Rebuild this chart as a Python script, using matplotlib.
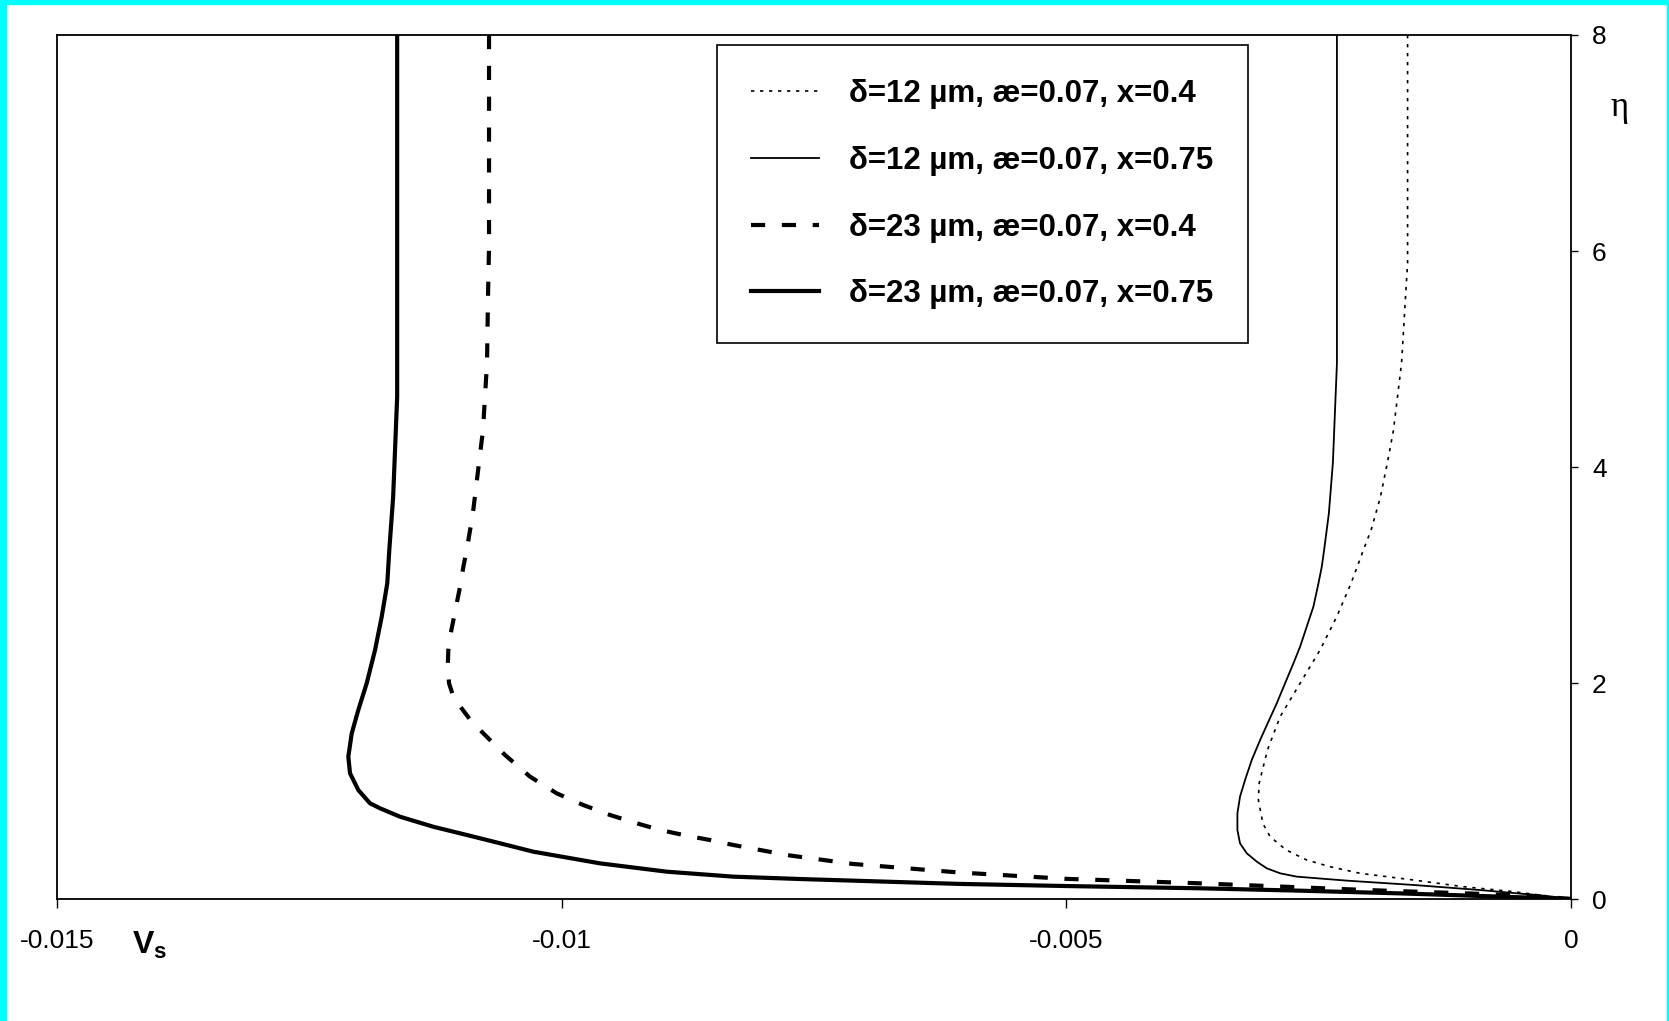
import numpy as np
import matplotlib
matplotlib.use("Agg")
from matplotlib import pyplot as plt
from matplotlib.patches import Rectangle

plt.rcParams['font.family'] = ['Liberation Sans', 'DejaVu Sans']
plt.rcParams['mathtext.fontset'] = 'custom'
plt.rcParams['mathtext.bf'] = 'Liberation Sans:bold'
plt.rcParams['mathtext.rm'] = 'Liberation Sans'

# curves: Vs and eta
v_12_04 = [-0.00162, -0.00162, -0.00166, -0.00168, -0.00172, -0.00176, -0.00182, -0.00189,
           -0.00198, -0.002058, -0.00218, -0.002322, -0.002487, -0.002685, -0.002883,
           -0.003008, -0.003091, -0.003098, -0.003054, -0.002982, -0.002823, -0.002619,
           -0.002388, -0.002091, -0.001562, -0.001067, -0.000571, 0.0]
eta_12_04 = [8, 5.89, 5.27, 4.96, 4.65, 4.34, 4.04, 3.72, 3.42, 3.231, 2.923, 2.614, 2.306,
             1.997, 1.688, 1.38, 1.071, 0.917, 0.701, 0.577, 0.454, 0.361, 0.299, 0.238,
             0.176, 0.114, 0.068, 0]

v_12_075 = [-0.00232, -0.00232, -0.00236, -0.00240, -0.002447, -0.00247, -0.002503, -0.002553,
            -0.002619, -0.002685, -0.002751, -0.002834, -0.002916, -0.002999, -0.003081,
            -0.003164, -0.00323, -0.00328, -0.003306, -0.003306, -0.00328, -0.003213,
            -0.003114, -0.003015, -0.002883, -0.002718, -0.002222, -0.001562, -0.000902,
            -0.000241, 0.0]
eta_12_075 = [8, 4.96, 4.04, 3.57, 3.231, 3.077, 2.923, 2.707, 2.522, 2.336, 2.182, 1.997,
              1.812, 1.642, 1.472, 1.287, 1.102, 0.948, 0.793, 0.639, 0.515, 0.423, 0.346,
              0.284, 0.238, 0.207, 0.17, 0.13, 0.083, 0.028, 0]

v_23_04 = [-0.01072, -0.01072, -0.01073, -0.01074, -0.01078, -0.01084, -0.01088, -0.010941,
           -0.010974, -0.011007, -0.01104, -0.011073, -0.011106, -0.011123, -0.011129,
           -0.011116, -0.011073, -0.010991, -0.010892, -0.01071, -0.010561, -0.010314,
           -0.010049, -0.009786, -0.009522, -0.009257, -0.009026, -0.008761, -0.00853,
           -0.0083, -0.008035, -0.007771, -0.00712, -0.00607, -0.00501, -0.003675,
           -0.002684, -0.002023, -0.001032, -0.000373, 0.0]
eta_23_04 = [8, 6.04, 5.58, 4.96, 4.34, 3.88, 3.57, 3.231, 3.077, 2.892, 2.738, 2.583, 2.429,
             2.306, 2.151, 1.997, 1.873, 1.765, 1.642, 1.472, 1.333, 1.133, 0.978, 0.87,
             0.778, 0.701, 0.639, 0.586, 0.546, 0.5, 0.454, 0.407, 0.325, 0.246, 0.187,
             0.145, 0.108, 0.083, 0.052, 0.028, 0]

v_23_075 = [-0.01163, -0.01163, -0.01167, -0.011708, -0.011728, -0.011783, -0.011849,
            -0.011932, -0.012015, -0.01208, -0.012114, -0.012097, -0.012015, -0.011899,
            -0.0118, -0.011602, -0.011272, -0.010941, -0.010611, -0.010281, -0.00962,
            -0.00896, -0.0083, -0.007639, -0.00607, -0.005, -0.003675, -0.002684,
            -0.001694, -0.000373, 0.0]
eta_23_075 = [8, 4.65, 3.72, 3.231, 2.923, 2.614, 2.306, 1.997, 1.75, 1.534, 1.318, 1.164,
              1.009, 0.886, 0.84, 0.762, 0.669, 0.593, 0.516, 0.438, 0.33, 0.253, 0.207,
              0.185, 0.14, 0.12, 0.099, 0.077, 0.052, 0.012, 0]

labels = ["δ=12 µm, æ=0.07, x=0.4", "δ=12 µm, æ=0.07, x=0.75",
          "δ=23 µm, æ=0.07, x=0.4", "δ=23 µm, æ=0.07, x=0.75"]

xticks = [-0.015, -0.01, -0.005, 0]
xticklabels = ["-0.015", "-0.01", "-0.005", "0"]
yticks = [0, 2, 4, 6, 8]

fig = plt.figure(figsize=(16.69, 10.21), dpi=100)
ax = fig.add_axes([0.03415, 0.11949, 0.9072, 0.84623])

ax.plot(v_12_04, eta_12_04, color='black', lw=1.2, linestyle=(0, (2, 3.4)), label=labels[0])
ax.plot(v_12_075, eta_12_075, color='black', lw=1.3, label=labels[1])
ax.plot(v_23_04, eta_23_04, color='black', lw=3, linestyle=(0, (3.4, 4.0)), label=labels[2])
ax.plot(v_23_075, eta_23_075, color='black', lw=3, label=labels[3])

ax.set_xlim(-0.015, 0)
ax.set_ylim(0, 8)
ax.set_xticks(xticks)
ax.set_xticklabels(xticklabels)
ax.set_yticks(yticks)
ax.yaxis.tick_right()
ax.tick_params(axis='x', direction='out', length=6.5, width=1, labelsize=19, pad=15)
ax.tick_params(axis='y', direction='out', length=5, width=1, labelsize=19, pad=10)
for s in ax.spines.values():
    s.set_linewidth(1.3)
    s.set_color('black')

leg = ax.legend(loc='upper left', bbox_to_anchor=(0.4358, 0.9884), frameon=True,
                fancybox=False, edgecolor='black', framealpha=1,
                prop={'weight': 'bold', 'size': 22.5}, borderpad=1.1,
                labelspacing=1.17, handlelength=2.18, handletextpad=0.95, borderaxespad=0)
leg.get_frame().set_linewidth(1.2)

fig.text(1620 / 1669, 1 - 108 / 1021, "η", fontsize=25, family='Liberation Serif',
         ha='center', va='center')
fig.text(132 / 1669, 1 - 945 / 1021, r"$\mathbf{V}_{\mathbf{s}}$", fontsize=23,
         ha='left', va='center')

# cyan frame round the picture
fig.patches.append(Rectangle((0, 0), 6 / 1669, 1, transform=fig.transFigure,
                             color='#00ffff', zorder=10))
fig.patches.append(Rectangle((0, 1 - 4 / 1021), 1, 4 / 1021, transform=fig.transFigure,
                             color='#00ffff', zorder=10))
fig.patches.append(Rectangle((1 - 2 / 1669, 0), 2 / 1669, 1, transform=fig.transFigure,
                             color='#00ffff', zorder=10))

fig.savefig("out.png", dpi=100)
